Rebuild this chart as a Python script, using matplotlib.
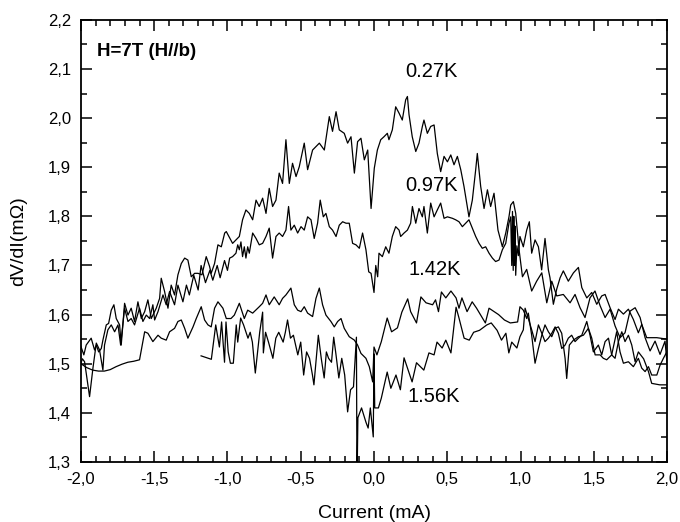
import matplotlib
matplotlib.use("Agg")
import matplotlib.pyplot as plt
from matplotlib.ticker import MultipleLocator

plt.rcParams['font.family'] = ['Liberation Sans', 'DejaVu Sans']

# 0.27K curve
x027 = [-2.0, -1.98, -1.964, -1.93, -1.907, -1.895, -1.879, -1.861, -1.85, -1.827, -1.811, -1.793, -1.775,
        -1.759, -1.736, -1.725, -1.702, -1.679, -1.657, -1.634, -1.611, -1.588, -1.565, -1.543, -1.52,
        -1.486, -1.463, -1.452, -1.429, -1.406, -1.384, -1.361, -1.338, -1.315, -1.292, -1.27, -1.247,
        -1.224, -1.201, -1.174, -1.145, -1.122, -1.111, -1.088, -1.065, -1.042, -1.019, -1.008,
        -0.965, -0.919, -0.897, -0.874, -0.851, -0.828, -0.805, -0.783, -0.760, -0.737, -0.715, -0.692,
        -0.669, -0.647, -0.624, -0.601, -0.578, -0.556, -0.532, -0.510, -0.476, -0.453, -0.419, -0.373,
        -0.339, -0.305, -0.283, -0.259, -0.237, -0.203, -0.180, -0.157, -0.134, -0.112, -0.089, -0.066,
        -0.043, -0.020,
        0.002, 0.023, 0.046, 0.068, 0.091, 0.102, 0.125, 0.148, 0.171, 0.193, 0.216, 0.228, 0.239, 0.261,
        0.285, 0.307, 0.330, 0.341, 0.364, 0.387, 0.410, 0.432, 0.455, 0.478, 0.501, 0.524, 0.546, 0.569,
        0.592, 0.614, 0.648, 0.671, 0.694, 0.705, 0.728, 0.751, 0.774, 0.796, 0.819, 0.846, 0.876, 0.899,
        0.921, 0.933, 0.951, 0.967, 0.990, 1.013,
        1.042, 1.076, 1.110, 1.145, 1.179, 1.213, 1.247, 1.292, 1.338, 1.372, 1.406, 1.440, 1.474, 1.508,
        1.543, 1.577, 1.611, 1.645, 1.679, 1.713, 1.747, 1.782, 1.816, 1.850, 1.884, 1.918, 1.952, 1.986, 2.0]
y027 = [1.535, 1.518, 1.538, 1.552, 1.528, 1.538, 1.524, 1.531, 1.548, 1.579, 1.582, 1.609, 1.620,
        1.592, 1.579, 1.538, 1.623, 1.599, 1.613, 1.586, 1.626, 1.592, 1.606, 1.630, 1.592,
        1.613, 1.633, 1.674, 1.647, 1.613, 1.660, 1.640, 1.681, 1.704, 1.715, 1.711, 1.677,
        1.684, 1.684, 1.681, 1.718, 1.698, 1.684, 1.704, 1.742, 1.738, 1.766, 1.769,
        1.745, 1.759, 1.793, 1.813, 1.806, 1.793, 1.833, 1.820, 1.837, 1.806, 1.857, 1.820,
        1.833, 1.888, 1.867, 1.956, 1.867, 1.908, 1.881, 1.901, 1.949, 1.895, 1.935, 1.949,
        1.935, 2.003, 1.973, 2.013, 1.976, 1.969, 1.949, 1.962, 1.888, 1.952, 1.959, 1.915,
        1.935, 1.816,
        1.898, 1.935, 1.956, 1.962, 1.969, 1.956, 1.976, 2.023, 2.010, 1.996, 2.037, 2.044, 2.007, 1.962,
        1.932, 1.949, 1.983, 1.996, 1.969, 1.983, 1.986, 1.928, 1.891, 1.922, 1.911, 1.925, 1.905, 1.922,
        1.895, 1.861, 1.799, 1.833, 1.895, 1.928, 1.861, 1.816, 1.854, 1.820, 1.847, 1.772, 1.738, 1.766,
        1.799, 1.823, 1.830, 1.806, 1.732, 1.677,
        1.692, 1.648, 1.668, 1.685, 1.624, 1.668, 1.638, 1.641, 1.624, 1.641, 1.614, 1.594, 1.634, 1.648,
        1.618, 1.594, 1.611, 1.577, 1.553, 1.563, 1.607, 1.614, 1.594, 1.553, 1.526, 1.546, 1.519, 1.546, 1.50]

# 0.97K curve
x097 = [-2.0, -1.99, -1.975, -1.941, -1.918, -1.895, -1.873, -1.850, -1.839, -1.816, -1.793, -1.770,
        -1.747, -1.729, -1.702, -1.679, -1.657, -1.634, -1.600, -1.577, -1.554, -1.531, -1.509, -1.497,
        -1.474, -1.440, -1.418, -1.395, -1.361, -1.338, -1.304,
        -1.28, -1.26, -1.23, -1.20, -1.18, -1.15, -1.12, -1.10, -1.07, -1.05, -1.02, -1.0, -0.985,
        -0.965, -0.942, -0.930, -0.919, -0.908, -0.897, -0.885, -0.874, -0.862, -0.851, -0.840, -0.828,
        -0.805, -0.783, -0.760, -0.737, -0.715, -0.692, -0.669, -0.647, -0.624, -0.601, -0.583, -0.567,
        -0.544, -0.521, -0.498, -0.476, -0.453, -0.430, -0.408, -0.385, -0.367, -0.346, -0.328, -0.305,
        -0.283, -0.259, -0.237, -0.214, -0.191, -0.169, -0.146, -0.123, -0.100, -0.078, -0.055, -0.036,
        -0.020, -0.008, 0.0, 0.012, 0.025,
        0.034, 0.057, 0.080, 0.102, 0.125, 0.148, 0.171, 0.182, 0.205, 0.228, 0.250, 0.262, 0.285, 0.307,
        0.330, 0.341, 0.364, 0.387, 0.410, 0.432, 0.455, 0.478, 0.501, 0.535, 0.557, 0.580, 0.603, 0.626,
        0.648, 0.671, 0.694, 0.717, 0.739, 0.762, 0.785, 0.808, 0.830, 0.853, 0.876, 0.899, 0.921, 0.933,
        0.940, 0.945, 0.950, 0.954, 0.958, 0.962, 0.967, 0.975, 0.985, 0.996, 1.019, 1.042, 1.060, 1.076,
        1.099, 1.122, 1.144, 1.167, 1.19,
        1.201, 1.224, 1.247, 1.270, 1.292, 1.326, 1.361, 1.395, 1.418, 1.452, 1.486, 1.520, 1.554, 1.577,
        1.611, 1.645, 1.668, 1.702, 1.736, 1.770, 1.804, 1.827, 1.861, 1.930, 2.0]
y097 = [1.501, 1.51, 1.504, 1.433, 1.491, 1.542, 1.528, 1.487, 1.538, 1.569, 1.579, 1.565,
        1.579, 1.538, 1.613, 1.586, 1.592, 1.579, 1.613, 1.586, 1.599, 1.592, 1.620, 1.589,
        1.606, 1.640, 1.620, 1.647, 1.620, 1.660, 1.626,
        1.66, 1.64, 1.68, 1.65, 1.70, 1.665, 1.69, 1.67, 1.70, 1.675, 1.71, 1.69, 1.715,
        1.718, 1.725, 1.742, 1.732, 1.748, 1.718, 1.738, 1.715, 1.738, 1.725, 1.745, 1.766,
        1.755, 1.742, 1.745, 1.759, 1.776, 1.715, 1.759, 1.766, 1.759, 1.772, 1.820, 1.772,
        1.782, 1.766, 1.779, 1.772, 1.799, 1.793, 1.755, 1.786, 1.833, 1.799, 1.806, 1.779,
        1.772, 1.759, 1.782, 1.789, 1.786, 1.786, 1.745, 1.742, 1.735, 1.766, 1.732, 1.687,
        1.684, 1.66, 1.645, 1.70, 1.677,
        1.725, 1.718, 1.738, 1.725, 1.759, 1.779, 1.772, 1.759, 1.766, 1.772, 1.786, 1.820, 1.786, 1.816,
        1.799, 1.820, 1.766, 1.827, 1.799, 1.813, 1.827, 1.796, 1.799, 1.796, 1.793, 1.789, 1.779, 1.786,
        1.793, 1.776, 1.759, 1.745, 1.735, 1.738, 1.725, 1.715, 1.708, 1.711, 1.732, 1.745, 1.786, 1.799,
        1.70, 1.81, 1.69, 1.80, 1.70, 1.78, 1.68, 1.74, 1.72, 1.759, 1.738, 1.772, 1.789, 1.725,
        1.752, 1.738, 1.691, 1.755, 1.691,
        1.675, 1.621, 1.652, 1.675, 1.689, 1.668, 1.685, 1.696, 1.655, 1.634, 1.645, 1.621, 1.638, 1.641,
        1.614, 1.590, 1.611, 1.601, 1.611, 1.590, 1.563, 1.580, 1.553, 1.553, 1.550]

# 1.42K curve
x142 = [-2.0, -1.96, -1.92, -1.88, -1.84, -1.80, -1.76, -1.72, -1.68, -1.64, -1.60,
        -1.565, -1.543, -1.509, -1.474, -1.452, -1.418, -1.395, -1.361, -1.338, -1.315, -1.292, -1.270,
        -1.235, -1.213, -1.179, -1.156, -1.133, -1.111, -1.088, -1.065, -1.031, -1.008,
        -0.976, -0.953, -0.919, -0.885, -0.862, -0.828, -0.783, -0.760, -0.737, -0.715, -0.681, -0.647,
        -0.624, -0.601, -0.567, -0.544, -0.521, -0.498, -0.476, -0.453, -0.419, -0.396, -0.373, -0.351,
        -0.328, -0.294, -0.271, -0.248, -0.225, -0.203, -0.169, -0.134, -0.112, -0.089, -0.055, -0.032,
        -0.009,
        0.0, 0.02, 0.05, 0.09, 0.12, 0.16, 0.19, 0.23, 0.25, 0.29, 0.32, 0.355, 0.40, 0.42, 0.44, 0.46,
        0.49, 0.525, 0.56, 0.58, 0.60, 0.635, 0.67, 0.70, 0.74, 0.76, 0.785, 0.82, 0.85, 0.89, 0.93, 0.98,
        0.996, 1.019, 1.042, 1.053, 1.076, 1.099, 1.122, 1.145, 1.167, 1.190, 1.213, 1.236, 1.258, 1.281,
        1.304, 1.315, 1.333, 1.361, 1.395, 1.429, 1.463, 1.486, 1.509, 1.543, 1.565, 1.588, 1.622, 1.656,
        1.679, 1.702, 1.736, 1.770, 1.804, 1.827, 1.850, 1.873, 1.895, 1.930, 1.952, 1.975, 1.998]
y142 = [1.500, 1.492, 1.487, 1.485, 1.485, 1.488, 1.494, 1.499, 1.503, 1.505, 1.508,
        1.565, 1.562, 1.545, 1.558, 1.552, 1.548, 1.565, 1.572, 1.586, 1.589, 1.572, 1.552,
        1.575, 1.592, 1.616, 1.589, 1.579, 1.575, 1.613, 1.626, 1.613, 1.592,
        1.592, 1.599, 1.623, 1.592, 1.609, 1.603, 1.616, 1.623, 1.640, 1.620, 1.636, 1.620,
        1.633, 1.640, 1.654, 1.620, 1.609, 1.606, 1.616, 1.603, 1.596, 1.633, 1.654, 1.620,
        1.599, 1.586, 1.575, 1.586, 1.592, 1.572, 1.555, 1.548, 1.538, 1.521, 1.511, 1.494,
        1.463,
        1.534, 1.518, 1.545, 1.593, 1.565, 1.573, 1.605, 1.632, 1.606, 1.583, 1.636, 1.624, 1.620, 1.630,
        1.606, 1.646, 1.634, 1.648, 1.634, 1.613, 1.634, 1.606, 1.626, 1.613, 1.593, 1.583, 1.613, 1.606,
        1.600, 1.589, 1.583, 1.585,
        1.616, 1.609, 1.592, 1.603, 1.558, 1.501, 1.531, 1.558, 1.579, 1.565, 1.555, 1.572, 1.575, 1.562,
        1.511, 1.470, 1.538, 1.548, 1.555, 1.558, 1.572, 1.552, 1.518, 1.518, 1.511, 1.508, 1.518, 1.565,
        1.524, 1.501, 1.504, 1.494, 1.511, 1.491, 1.484, 1.494, 1.477, 1.477, 1.497, 1.511, 1.524]

# 1.56K curve
x156 = [-1.18, -1.11, -1.08, -1.065, -1.055, -1.04, -1.02, -1.01, -0.995, -0.98, -0.96, -0.94, -0.93,
        -0.91, -0.89, -0.86, -0.845, -0.83, -0.81, -0.78, -0.76, -0.755, -0.74, -0.72, -0.69, -0.67,
        -0.65, -0.62, -0.605, -0.59, -0.57, -0.55, -0.52, -0.50, -0.48, -0.46, -0.44, -0.42, -0.41,
        -0.38, -0.36, -0.34, -0.325, -0.31, -0.29, -0.275, -0.26, -0.24, -0.22, -0.20, -0.18, -0.16,
        -0.14, -0.12, -0.116, -0.11, -0.085, -0.055, -0.04, -0.025, -0.005, 0.0, 0.005, 0.03, 0.05,
        0.07, 0.09, 0.115, 0.15, 0.18, 0.205, 0.225, 0.26, 0.29, 0.34, 0.375, 0.41, 0.43, 0.465, 0.49,
        0.525, 0.56, 0.58, 0.615, 0.65, 0.68, 0.72, 0.77, 0.80, 0.84, 0.87, 0.90, 0.92, 0.94, 0.975,
        0.996, 1.019, 1.031, 1.053, 1.076, 1.099, 1.122, 1.145, 1.167, 1.190, 1.213, 1.236, 1.258,
        1.281, 1.304, 1.326, 1.349, 1.372, 1.395, 1.418, 1.452, 1.474, 1.497, 1.531, 1.554, 1.577,
        1.600, 1.622, 1.645, 1.668, 1.691, 1.713, 1.736, 1.759, 1.782, 1.804, 1.840, 1.873, 1.895,
        1.95, 2.0]
y156 = [1.516, 1.509, 1.579, 1.552, 1.534, 1.585, 1.503, 1.585, 1.524, 1.501, 1.501, 1.579, 1.544,
        1.593, 1.579, 1.552, 1.564, 1.544, 1.481, 1.564, 1.605, 1.522, 1.564, 1.544, 1.511, 1.552,
        1.564, 1.544, 1.564, 1.589, 1.552, 1.558, 1.518, 1.544, 1.477, 1.524, 1.511, 1.477, 1.457,
        1.558, 1.511, 1.471, 1.524, 1.511, 1.503, 1.554, 1.52, 1.471, 1.511, 1.477, 1.402, 1.447,
        1.453, 1.554, 1.25, 1.39, 1.41, 1.381, 1.369, 1.41, 1.351, 1.52, 1.41, 1.41, 1.43,
        1.457, 1.483, 1.45, 1.477, 1.447, 1.512, 1.494, 1.463, 1.502, 1.487, 1.522, 1.518, 1.544, 1.532, 1.548,
        1.522, 1.615, 1.593, 1.552, 1.548, 1.564, 1.568, 1.579, 1.583, 1.568, 1.548, 1.562, 1.522, 1.544, 1.532,
        1.555, 1.569, 1.613, 1.592, 1.569, 1.545, 1.579, 1.562, 1.545, 1.552, 1.562, 1.575, 1.562,
        1.531, 1.538, 1.552, 1.558, 1.545, 1.552, 1.558, 1.586, 1.558, 1.524, 1.538, 1.518, 1.545,
        1.552, 1.518, 1.511, 1.545, 1.565, 1.545, 1.558, 1.538, 1.504, 1.524, 1.51, 1.484, 1.460,
        1.457, 1.457]

labels = ['0.27K', '0.97K', '1.42K', '1.56K']
label_x = [0.39, 0.39, 0.415, 0.41]
label_y = [2.094, 1.862, 1.691, 1.434]

xticks = [-2.0, -1.5, -1.0, -0.5, 0.0, 0.5, 1.0, 1.5, 2.0]
xticklabels = ['-2,0', '-1,5', '-1,0', '-0,5', '0,0', '0,5', '1,0', '1,5', '2,0']
yticks = [1.3, 1.4, 1.5, 1.6, 1.7, 1.8, 1.9, 2.0, 2.1, 2.2]
yticklabels = ['1,3', '1,4', '1,5', '1,6', '1,7', '1,8', '1,9', '2,0', '2,1', '2,2']

fig = plt.figure(figsize=(6.8, 5.22), dpi=100)
ax = fig.add_axes([0.119, 0.115, 0.862, 0.847])

for xs, ys in [(x027, y027), (x097, y097), (x142, y142), (x156, y156)]:
    ax.plot(xs, ys, color='black', lw=0.9)

for t, lx, ly in zip(labels, label_x, label_y):
    ax.text(lx, ly, t, ha='center', va='center', fontsize=14.5)

ax.text(-1.89, 2.135, 'H=7T (H//b)', ha='left', va='center', fontsize=13.5, fontweight='bold')

ax.set_xlim(-2.0, 2.0)
ax.set_ylim(1.3, 2.2)
ax.set_xticks(xticks)
ax.set_xticklabels(xticklabels)
ax.set_yticks(yticks)
ax.set_yticklabels(yticklabels)
ax.xaxis.set_minor_locator(MultipleLocator(0.1))
ax.yaxis.set_minor_locator(MultipleLocator(0.05))
ax.tick_params(which='both', direction='in', top=True, right=True, width=1.1, labelsize=12)
ax.tick_params(which='major', length=8, pad=7)
ax.tick_params(which='minor', length=4)
for s in ax.spines.values():
    s.set_linewidth(1.3)

ax.set_xlabel('Current (mA)', fontsize=14, labelpad=13)
ax.set_ylabel('dV/dI(m\u03a9)', fontsize=14, labelpad=15)

fig.savefig('out.png', dpi=100)
